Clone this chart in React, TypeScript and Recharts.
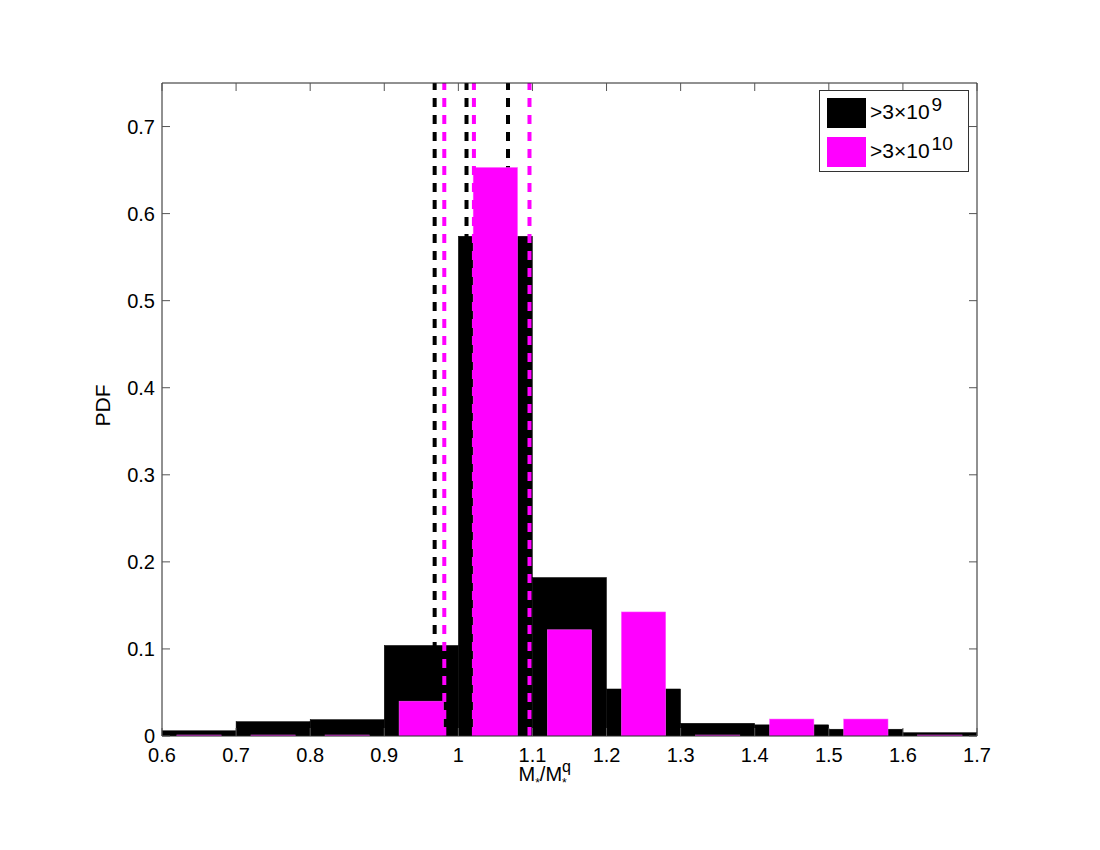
import React from "react";
import { ComposedChart, Bar, XAxis, YAxis, ReferenceLine, Legend } from "recharts";

// histogram bins of M*/M*^q (bin width 0.1)
const binCenters = [0.65, 0.75, 0.85, 0.95, 1.05, 1.15, 1.25, 1.35, 1.45, 1.55, 1.65];
const pdfAbove3e9 = [0.006, 0.0165, 0.0188, 0.104, 0.574, 0.182, 0.054, 0.0146, 0.0128, 0.0078, 0.0038];
const pdfAbove3e10 = [0, 0, 0, 0.040, 0.653, 0.122, 0.1425, 0, 0.0195, 0.0195, 0];

// dashed vertical markers
const markers3e9 = [0.968, 1.011, 1.067];
const markers3e10 = [0.981, 1.021, 1.096];

const xTicks = [0.6, 0.7, 0.8, 0.9, 1.0, 1.1, 1.2, 1.3, 1.4, 1.5, 1.6, 1.7];
const yTicks = [0, 0.1, 0.2, 0.3, 0.4, 0.5, 0.6, 0.7];
const seriesOrder = ["all", "massive"];

const data = binCenters.map((x, i) => ({ x, all: pdfAbove3e9[i], massive: pdfAbove3e10[i] }));

const FONT = '"Liberation Sans", Arial, Helvetica, sans-serif';
const W = 1092;
const H = 842;
const margin = { top: 75, right: 123, bottom: 54, left: 94 };
const Y_W = 60;
const X_H = 60;
const PLOT_W = W - margin.left - margin.right - Y_W;
const PLOT_H = H - margin.top - margin.bottom - X_H;
const TICK = "#555";
const BLACK = "#000000";
const MAGENTA = "#ff00ff";

const fmt = (v: number) => String(Number(v.toFixed(1)));

function XTick(props: any) {
  const { x, y, payload } = props;
  return (
    <g>
      <line x1={x} x2={x} y1={y} y2={y - 8} stroke={TICK} />
      <line x1={x} x2={x} y1={y - PLOT_H} y2={y - PLOT_H + 8} stroke={TICK} />
      <text x={x} y={y + 26} textAnchor="middle" fontSize={20} fontFamily={FONT} fill="#000">
        {fmt(payload.value)}
      </text>
    </g>
  );
}

function YTick(props: any) {
  const { x, y, payload } = props;
  return (
    <g>
      <line x1={x} x2={x + 8} y1={y} y2={y} stroke={TICK} />
      <line x1={x + PLOT_W - 8} x2={x + PLOT_W} y1={y} y2={y} stroke={TICK} />
      <text x={x - 7} y={y + 7} textAnchor="end" fontSize={20} fontFamily={FONT} fill="#000">
        {fmt(payload.value)}
      </text>
    </g>
  );
}

function XLabel(props: any) {
  const { viewBox } = props;
  const x0 = viewBox.x + viewBox.width / 2 - 51;
  const by = viewBox.y + 45;
  return (
    <text x={x0} y={by} textAnchor="start" fontSize={20} fontFamily={FONT} fill="#000">
      M<tspan fontSize={12} dy={6}>*</tspan>
      <tspan dy={-6}>/M</tspan>
      <tspan fontSize={16} dy={-9}>q</tspan>
      <tspan fontSize={12} dx={-9} dy={15}>*</tspan>
    </text>
  );
}

function YLabel(props: any) {
  const { viewBox } = props;
  const cx = viewBox.x + viewBox.width - 52;
  const cy = viewBox.y + viewBox.height / 2 - 4;
  return (
    <text x={cx} y={cy} transform={`rotate(-90 ${cx} ${cy})`} textAnchor="middle" fontSize={21} fontFamily={FONT} fill="#000">
      PDF
    </text>
  );
}

function BlackBar(p: any) {
  return <rect x={p.x} y={p.y} width={p.width} height={p.height} fill={BLACK} stroke={BLACK} strokeWidth={0.5} />;
}

function MagentaBar(p: any) {
  const h = Math.max(p.height, 1);
  return (
    <rect
      x={p.x + p.width * 0.2}
      y={p.y + p.height - h}
      width={p.width * 0.6}
      height={h}
      fill={MAGENTA}
      stroke="#ff66ff"
      strokeWidth={0.5}
    />
  );
}

const supStyle: React.CSSProperties = { fontSize: 19, position: "relative", top: -8, marginLeft: 2 };

function LegendBox({ payload }: any) {
  const labels: Record<string, React.ReactNode> = {
    all: (
      <>
        &gt;3×10<span style={supStyle}>9</span>
      </>
    ),
    massive: (
      <>
        &gt;3×10<span style={supStyle}>10</span>
      </>
    )
  };
  const entries = [...(payload || [])].sort(
    (a: any, b: any) => seriesOrder.indexOf(a.dataKey) - seriesOrder.indexOf(b.dataKey)
  );
  return (
    <div
      style={{
        position: "relative",
        width: 150,
        height: 82,
        boxSizing: "border-box",
        border: "1px solid #333",
        background: "#fff",
        fontFamily: FONT,
        fontSize: 21
      }}
    >
      {entries.map((entry: any, i: number) => (
        <div key={i} style={{ position: "absolute", left: 7, top: 6 + i * 39, display: "flex", alignItems: "center" }}>
          <span style={{ display: "inline-block", width: 39, height: 30, background: entry.color }} />
          <span style={{ marginLeft: 4, lineHeight: "30px", color: "#000", whiteSpace: "nowrap" }}>{labels[entry.dataKey]}</span>
        </div>
      ))}
    </div>
  );
}

export default function App() {
  return (
    <div style={{ width: W, height: H }}>
      <ComposedChart width={W} height={H} data={data} margin={margin} barCategoryGap={0} barGap={0}>
        <XAxis
          xAxisId={0}
          type="number"
          dataKey="x"
          domain={[0.6, 1.7]}
          ticks={xTicks}
          interval={0}
          height={X_H}
          tickSize={0}
          tickMargin={0}
          tickLine={false}
          tick={<XTick />}
          axisLine={{ stroke: "#222" }}
          label={<XLabel />}
          allowDataOverflow
        />
        <XAxis xAxisId="pink" type="number" dataKey="x" domain={[0.6, 1.7]} hide allowDataOverflow />
        <YAxis
          type="number"
          domain={[0, 0.75]}
          ticks={yTicks}
          interval={0}
          width={Y_W}
          tickSize={0}
          tickMargin={0}
          tickLine={false}
          tick={<YTick />}
          axisLine={{ stroke: "#222" }}
          label={<YLabel />}
          allowDataOverflow
        />
        <Legend
          layout="vertical"
          align="center"
          verticalAlign="middle"
          content={<LegendBox />}
          wrapperStyle={{ left: 811, top: 82, width: 150 }}
        />
        <Bar
          xAxisId={0}
          dataKey="all"
          name=">3×10^9"
          fill={BLACK}
          shape={<BlackBar />}
          isAnimationActive={false}
          zIndex={300}
        />
        {markers3e9.map((v) => (
          <ReferenceLine key={"b" + v} x={v} stroke={BLACK} strokeWidth={4} strokeDasharray="9 8" zIndex={310} />
        ))}
        <Bar
          xAxisId="pink"
          dataKey="massive"
          name=">3×10^10"
          fill={MAGENTA}
          shape={<MagentaBar />}
          isAnimationActive={false}
          zIndex={320}
        />
        {markers3e10.map((v) => (
          <ReferenceLine key={"m" + v} x={v} stroke={MAGENTA} strokeWidth={4} strokeDasharray="9 8" zIndex={330} />
        ))}
        <ReferenceLine y={0.75} stroke="#222" zIndex={500} />
        <ReferenceLine x={1.7} stroke="#222" zIndex={500} />
      </ComposedChart>
    </div>
  );
}
